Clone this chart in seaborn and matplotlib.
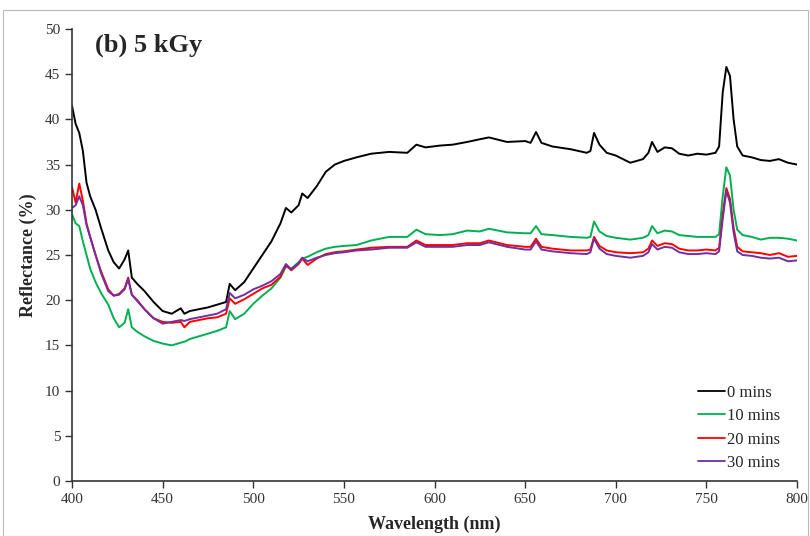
import matplotlib
matplotlib.use("Agg")
import matplotlib.pyplot as plt
import seaborn as sns
import pandas as pd
from matplotlib.patches import Rectangle

# wavelength grid (nm) shared by all series
wavelength = [400, 402, 404, 406, 408, 410, 413, 416, 420, 423, 426, 429, 431, 433, 436,
              440, 445, 450, 455, 460, 462, 465, 470, 475, 480, 485, 487, 490, 495, 500,
              505, 510, 515, 518, 521, 525, 527, 530, 535, 540, 545, 550, 557, 565, 575,
              585, 590, 595, 603, 610, 618, 625, 630, 640, 650, 653, 656, 659, 665, 675,
              684, 686, 688, 691, 695, 700, 708, 715, 718, 720, 723, 727, 731, 735, 740,
              745, 750, 755, 757, 759, 761, 763, 765, 767, 770, 775, 780, 785, 790, 795, 800]

r_0min = [41.5, 39.5, 38.5, 36.5, 33, 31.5, 30, 28, 25.5, 24.2, 23.5, 24.5, 25.5, 22.5, 21.8,
          21, 19.8, 18.8, 18.5, 19.1, 18.5, 18.8, 19, 19.2, 19.5, 19.8, 21.8, 21.1, 22, 23.5,
          25, 26.5, 28.5, 30.2, 29.7, 30.5, 31.8, 31.3, 32.6, 34.2, 35, 35.4, 35.8, 36.2, 36.4,
          36.3, 37.2, 36.9, 37.1, 37.2, 37.5, 37.8, 38, 37.5, 37.6, 37.4, 38.6, 37.4, 37, 36.7,
          36.3, 36.5, 38.5, 37.2, 36.3, 36, 35.2, 35.6, 36.3, 37.5, 36.4, 36.9, 36.8, 36.2, 36,
          36.2, 36.1, 36.3, 37, 43, 45.8, 44.8, 40, 37, 36, 35.8, 35.5, 35.4, 35.6, 35.2, 35]

r_10min = [29.5, 28.5, 28.2, 26.5, 25, 23.5, 22, 20.8, 19.5, 18, 17, 17.5, 19, 17, 16.5,
           16, 15.5, 15.2, 15, 15.3, 15.4, 15.7, 16, 16.3, 16.6, 17, 18.8, 17.9, 18.5, 19.6,
           20.5, 21.3, 22.5, 23.7, 23.5, 24.2, 24.6, 24.8, 25.3, 25.7, 25.9, 26, 26.1, 26.6, 27,
           27, 27.8, 27.3, 27.2, 27.3, 27.7, 27.6, 27.9, 27.5, 27.4, 27.4, 28.2, 27.3, 27.2, 27,
           26.9, 27, 28.7, 27.6, 27.1, 26.9, 26.7, 26.9, 27.2, 28.2, 27.4, 27.7, 27.6, 27.2, 27.1,
           27, 27, 27, 27.3, 31.5, 34.7, 33.8, 30, 27.8, 27.2, 27, 26.7, 26.9, 26.9, 26.8, 26.6]

r_20min = [32.5, 30.8, 32.9, 31, 28.5, 27, 25, 23.2, 21.2, 20.5, 20.7, 21.3, 22.5, 20.6, 20,
           19, 18, 17.6, 17.5, 17.6, 17, 17.6, 17.8, 18, 18.1, 18.5, 20.2, 19.6, 20.1, 20.7,
           21.3, 21.7, 22.6, 23.9, 23.3, 24, 24.6, 23.9, 24.6, 25.1, 25.3, 25.4, 25.6, 25.8, 25.9,
           25.9, 26.6, 26.1, 26.1, 26.1, 26.3, 26.3, 26.6, 26.1, 25.9, 25.9, 26.8, 25.9, 25.7, 25.5,
           25.5, 25.6, 27, 26, 25.5, 25.3, 25.2, 25.3, 25.7, 26.6, 26, 26.3, 26.2, 25.7, 25.5,
           25.5, 25.6, 25.5, 25.8, 29.5, 32.4, 31.2, 28, 25.9, 25.4, 25.3, 25.2, 25, 25.2, 24.8, 24.9]

r_30min = [30.2, 30.5, 31.5, 30.5, 28.3, 27, 25, 23, 21, 20.5, 20.6, 21.2, 22.3, 20.6, 19.9,
           19, 18, 17.4, 17.6, 17.8, 17.7, 17.9, 18.1, 18.3, 18.5, 19, 20.8, 20.2, 20.6, 21.2,
           21.6, 22.1, 22.9, 24, 23.4, 24.1, 24.7, 24.3, 24.7, 25, 25.2, 25.3, 25.5, 25.6, 25.8,
           25.8, 26.4, 25.9, 25.9, 25.9, 26.1, 26.1, 26.4, 25.9, 25.6, 25.6, 26.5, 25.6, 25.4, 25.2,
           25.1, 25.3, 26.8, 25.7, 25.1, 24.9, 24.7, 24.9, 25.3, 26.2, 25.6, 25.9, 25.8, 25.3, 25.1,
           25.1, 25.2, 25.1, 25.4, 29, 32.1, 30.8, 27.5, 25.4, 25, 24.9, 24.7, 24.6, 24.7, 24.3, 24.4]

labels = ["0 mins", "10 mins", "20 mins", "30 mins"]
colors = ["#000000", "#00B050", "#FF0000", "#7030A0"]

frames = []
for lab, vals in zip(labels, [r_0min, r_10min, r_20min, r_30min]):
    frames.append(pd.DataFrame({"Wavelength": wavelength, "Reflectance": vals, "Time": lab}))
df = pd.concat(frames, ignore_index=True)

sns.set_style("ticks")
plt.rcParams["font.family"] = ["Liberation Serif", "DejaVu Serif"]

fig = plt.figure(figsize=(8.1, 5.36), dpi=100)
ax = fig.add_axes([0.0889, 0.1026, 0.8951, 0.8434])

sns.lineplot(data=df, x="Wavelength", y="Reflectance", hue="Time",
             palette=dict(zip(labels, colors)), linewidth=1.4, ax=ax, sort=False)

ax.set_xlim(400, 800)
ax.set_ylim(0, 50)
ax.set_xticks(range(400, 801, 50))
ax.set_yticks(range(0, 51, 5))
ax.tick_params(axis="both", labelsize=11, direction="out", length=5, width=1, colors="#333333")
for lbl in ax.get_xticklabels() + ax.get_yticklabels():
    lbl.set_color("#333333")
for s in ["top", "right"]:
    ax.spines[s].set_visible(False)
for s in ["left", "bottom"]:
    ax.spines[s].set_color("#333333")
    ax.spines[s].set_linewidth(1.2)

ax.set_xlabel("Wavelength (nm)", fontsize=13, fontweight="bold", labelpad=7)
ax.set_ylabel("Reflectance (%)", fontsize=13, fontweight="bold", labelpad=6)
ax.text(0.032, 0.99, "(b) 5 kGy", transform=ax.transAxes, fontsize=19,
        fontweight="bold", va="top", ha="left")

leg = ax.legend(loc="lower right", frameon=False, fontsize=12, handlelength=1.6,
                handletextpad=0.1, labelspacing=0.45, borderaxespad=0.2,
                bbox_to_anchor=(0.99, 0.0))
for line in leg.get_lines():
    line.set_linewidth(1.3)

fig.patches.append(Rectangle((0.004, 0.0), 0.994, 0.981, transform=fig.transFigure,
                             fill=False, edgecolor="#b8b8b8", linewidth=0.8))

fig.savefig("out.png", dpi=100)
